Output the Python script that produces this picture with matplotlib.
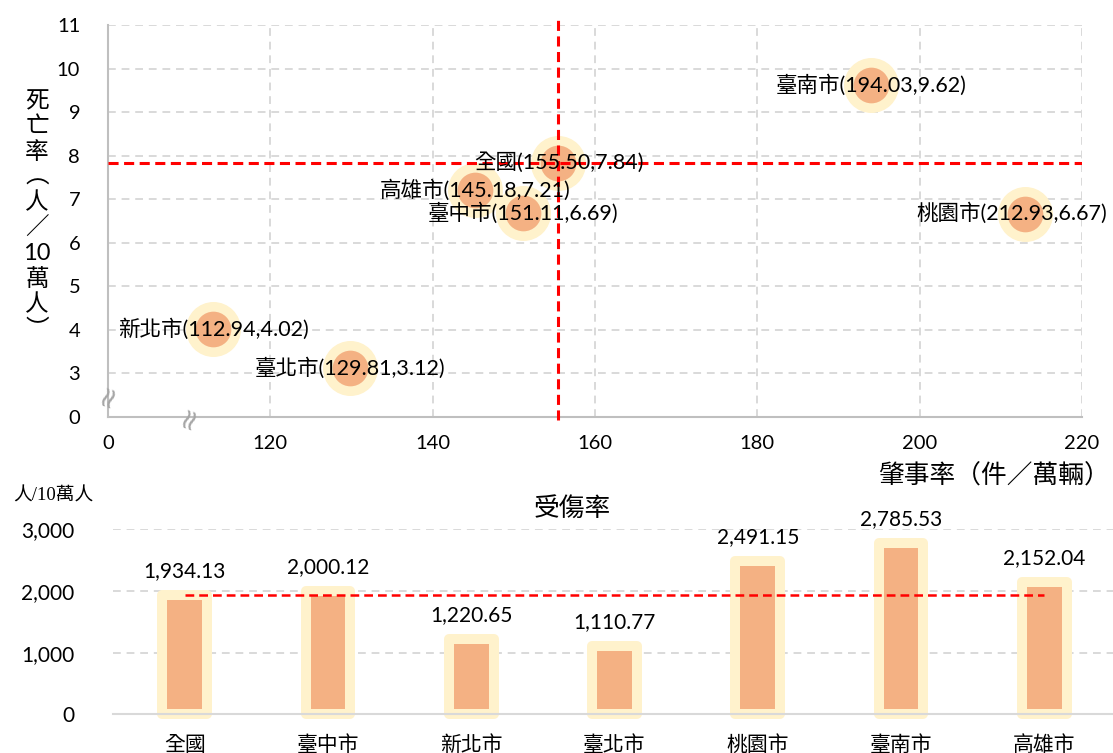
import numpy as np
import matplotlib
matplotlib.use('Agg')
import matplotlib.pyplot as plt

plt.rcParams['font.family'] = ['Lato', 'Noto Sans CJK TC']
plt.rcParams['axes.unicode_minus'] = False

# data
cities = ['全國', '臺中市', '新北市', '臺北市', '桃園市', '臺南市', '高雄市']
accident_rate = [155.50, 151.11, 112.94, 129.81, 212.93, 194.03, 145.18]   # 肇事率(件/萬輛)
death_rate = [7.84, 6.69, 4.02, 3.12, 6.67, 9.62, 7.21]                   # 死亡率(人/10萬人)
injury_rate = [1934.13, 2000.12, 1220.65, 1110.77, 2491.15, 2785.53, 2152.04]  # 受傷率

x_ticks = [100, 120, 140, 160, 180, 200, 220]
x_ticklabels = ['0', '120', '140', '160', '180', '200', '220']
y_ticks = [2, 3, 4, 5, 6, 7, 8, 9, 10, 11]
y_ticklabels = ['0', '3', '4', '5', '6', '7', '8', '9', '10', '11']
bar_ticks = [0, 1000, 2000, 3000]

label_dx = [0, 0, 0, 0, -9, 0, 0]  # nudge so the 桃園市 label stays inside

orange = '#f4b183'
glow = '#fff2cc'
grid_c = '#d9d9d9'
red = '#ff0000'

fig = plt.figure(figsize=(11.13, 7.53), dpi=100)
W, H = 1113.0, 753.0

# ---------------- scatter (top) ----------------
ax1 = fig.add_axes([108 / W, 1 - 417 / H, (1082 - 108) / W, (417 - 25) / H])
ax1.set_xlim(100, 220)
ax1.set_ylim(2, 11)
ax1.set_xticks(x_ticks)
ax1.set_xticklabels(x_ticklabels)
ax1.set_yticks(y_ticks)
ax1.set_yticklabels(y_ticklabels)
ax1.tick_params(length=0, labelsize=14.5, colors='black')
ax1.tick_params(axis='x', pad=13)
ax1.tick_params(axis='y', pad=20)
ax1.grid(True, color=grid_c, lw=1.4, dashes=(4, 3))
ax1.set_axisbelow(True)
for s in ['top', 'right']:
    ax1.spines[s].set_visible(False)
for s in ['left', 'bottom']:
    ax1.spines[s].set_color('#bfbfbf')
    ax1.spines[s].set_linewidth(1.5)

ax1.scatter(accident_rate, death_rate, s=1568, color=glow, zorder=3, linewidths=0)
ax1.scatter(accident_rate, death_rate, s=660, color=orange, zorder=4, linewidths=0)

# national reference lines
ax1.axhline(death_rate[0], color=red, lw=2.2, dashes=(3.3, 1.8), zorder=4.5)
ax1.axvline(accident_rate[0], ymin=-0.008, ymax=1.013, color=red, lw=2.2,
            dashes=(3.3, 1.8), zorder=4.5, clip_on=False)

for name, xv, yv, dx in zip(cities, accident_rate, death_rate, label_dx):
    ax1.annotate(f'{name}({xv:.2f},{yv:.2f})', (xv, yv), xytext=(dx, 0),
                 textcoords='offset points', ha='center', va='center',
                 fontsize=15.5, zorder=6)

# axis break marks
ax1.text(100, 2.5, '≈', rotation=70, ha='center', va='center', fontsize=21,
         color='#a6a6a6', family='DejaVu Sans', clip_on=False, zorder=5)
ax1.text(110, 2, '≈', rotation=70, ha='center', va='center', fontsize=21,
         color='#a6a6a6', family='DejaVu Sans', clip_on=False, zorder=5)

# axis titles
fig.text(37 / W, 1 - 216 / H, '死\n亡\n率\n︵\n人\n／\n10\n萬\n人\n︶',
         ha='center', va='center', fontsize=17, linespacing=1.22)
fig.text(1110 / W, 1 - 476 / H, '肇事率（件／萬輛）', ha='right', va='center',
         fontsize=18.5)

# ---------------- bars (bottom) ----------------
ax2 = fig.add_axes([113 / W, 1 - 714.3 / H, 1003 / W, (714.3 - 529.3) / H])
xpos = np.arange(len(cities))
ax2.bar(xpos, injury_rate, width=0.3125, color=orange, edgecolor=glow,
        linewidth=7.2, joinstyle='round', clip_on=False, zorder=2)
ax2.set_xlim(-0.5, len(cities) - 0.5)
ax2.set_ylim(0, 3000)
ax2.set_yticks(bar_ticks)
ax2.set_yticklabels([f'{v:,}' for v in bar_ticks])
ax2.set_xticks(xpos)
ax2.set_xticklabels(cities, fontsize=15)
ax2.tick_params(length=0, labelsize=15, colors='black')
ax2.tick_params(axis='x', pad=15, labelsize=15)
ax2.tick_params(axis='y', pad=28)
ax2.yaxis.grid(True, color=grid_c, lw=1.4, dashes=(4, 3))
ax2.set_axisbelow(True)
for s in ['top', 'right', 'left']:
    ax2.spines[s].set_visible(False)
ax2.spines['bottom'].set_color(grid_c)
ax2.spines['bottom'].set_linewidth(1.5)
ax2.spines['bottom'].set_zorder(3)

for xv, v in zip(xpos, injury_rate):
    ax2.annotate(f'{v:,.2f}', (xv, v), xytext=(0, 10), textcoords='offset points',
                 ha='center', va='bottom', fontsize=15)

ax2.plot([xpos[0], xpos[-1]], [injury_rate[0], injury_rate[0]], color=red,
         lw=1.8, dashes=(3.5, 2), zorder=4)

fig.text(572 / W, 1 - 508 / H, '受傷率', ha='center', va='center', fontsize=18.5)
fig.text(13 / W, 1 - 496 / H, '人/10萬人', ha='left', va='center', fontsize=13.5,
         family=['Liberation Serif', 'Noto Sans CJK TC'])

fig.savefig('out.png', dpi=100)
